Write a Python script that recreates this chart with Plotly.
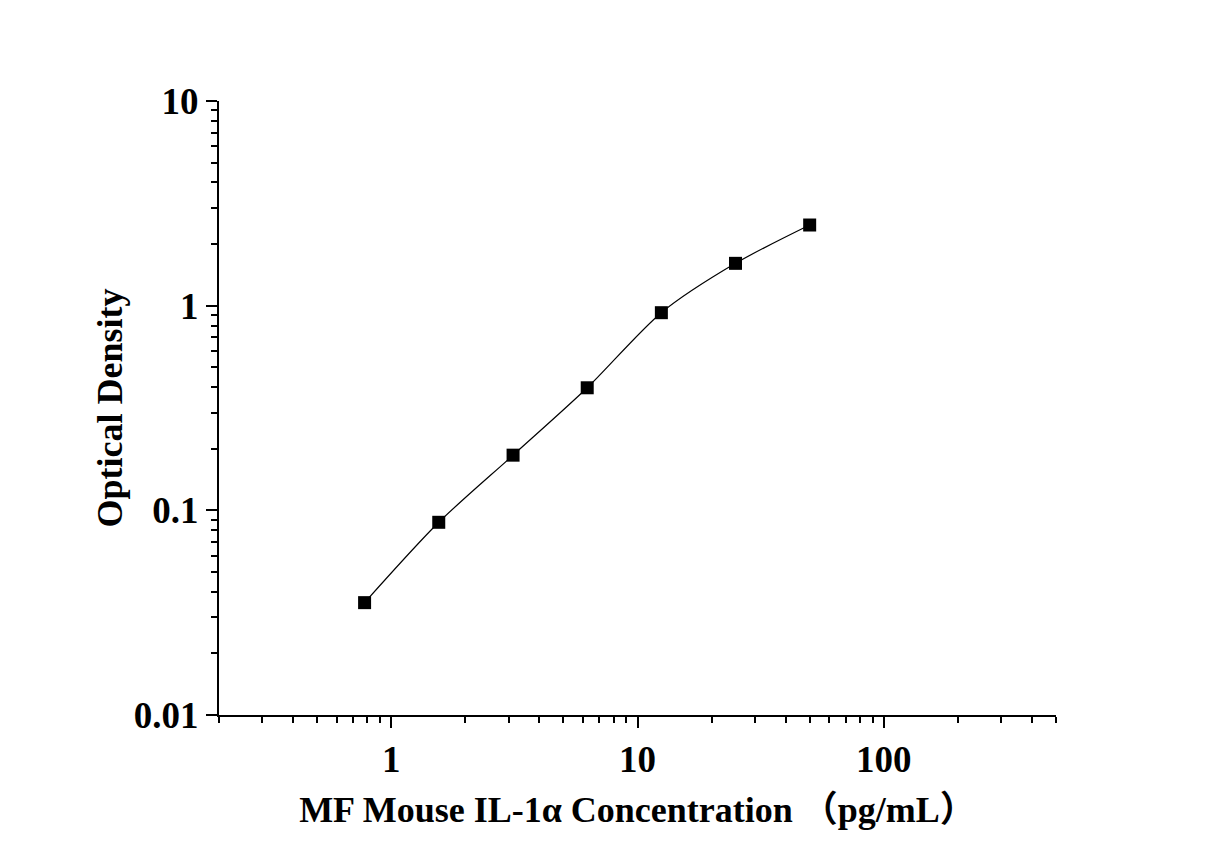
import plotly.graph_objects as go

# standard curve data
concentration = [0.78, 1.56, 3.125, 6.25, 12.5, 25, 50]
optical_density = [0.0354, 0.0874, 0.186, 0.397, 0.924, 1.61, 2.478]

x_tickvals = [1, 10, 100]
x_ticktext = ["1", "10", "100"]
y_tickvals = [0.01, 0.1, 1, 10]
y_ticktext = ["0.01", "0.1", "1", "10"]

FONT = "Liberation Serif, Times New Roman, Noto Sans CJK SC, serif"

fig = go.Figure()

# fitted curve
fig.add_trace(go.Scatter(
  x=concentration, y=optical_density,
  mode="lines", line=dict(color="black", width=1.2, shape="spline", smoothing=0.8),
  showlegend=False, hoverinfo="skip",
))

# measured points
fig.add_trace(go.Scatter(
  x=concentration, y=optical_density,
  mode="markers", marker=dict(symbol="square", size=13, color="black"),
  showlegend=False,
))

axisCommon = dict(
  type="log",
  automargin=False,
  showgrid=False,
  zeroline=False,
  showline=True,
  linecolor="black",
  linewidth=2,
  ticks="outside",
  ticklen=11,
  tickwidth=2,
  tickcolor="black",
  tickfont=dict(family=FONT, size=37, color="black", weight="bold"),
  minor=dict(ticks="outside", ticklen=6, tickwidth=2, tickcolor="black", dtick="D1", showgrid=False),
  mirror=False,
)

fig.update_xaxes(
  **axisCommon,
  range=[-0.69897, 2.69897],
  tickvals=x_tickvals, ticktext=x_ticktext,
  title=dict(text="MF Mouse IL-1α Concentration （pg/mL）",
             font=dict(family=FONT, size=36, color="black", weight="bold"), standoff=17),
)
fig.update_yaxes(
  **axisCommon,
  range=[-2, 1],
  tickvals=y_tickvals, ticktext=y_ticktext,
  title=dict(text="Optical Density",
             font=dict(family=FONT, size=36, color="black", weight="bold"), standoff=0),
)

# the page body adds an 8px offset, so margins are shifted to compensate
fig.update_layout(
  width=1227, height=857,
  margin=dict(l=211, r=179, t=93, b=150),
  paper_bgcolor="white",
  plot_bgcolor="white",
)

fig.write_html("out.html")
